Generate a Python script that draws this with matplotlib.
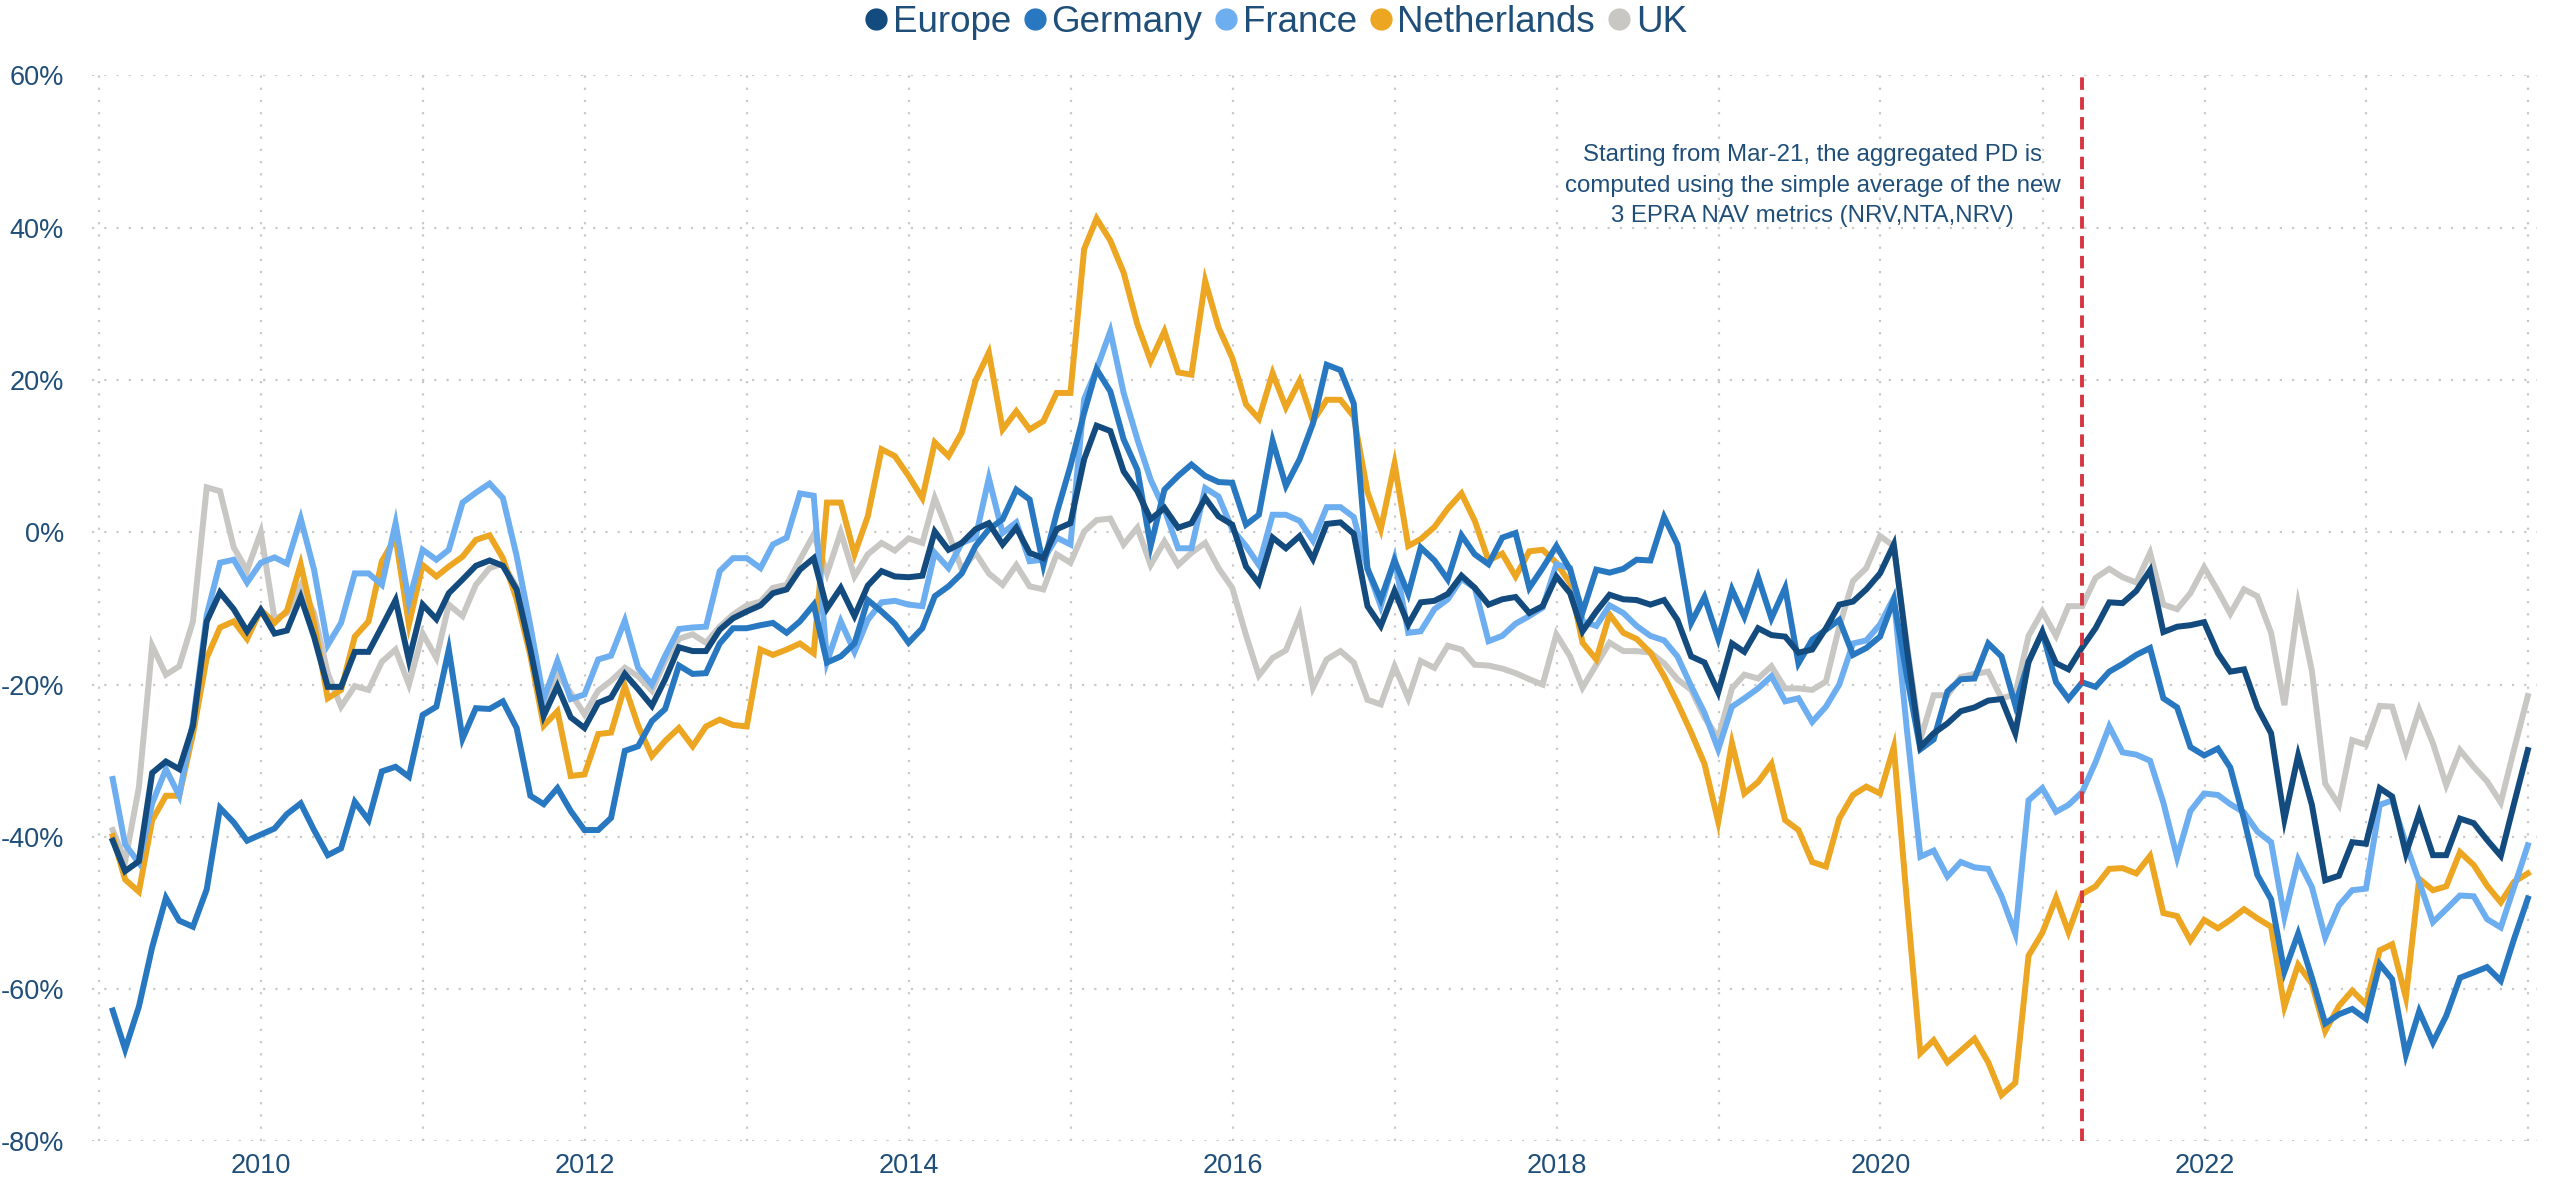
import pandas as pd
import numpy as np
import matplotlib.pyplot as plt
from matplotlib.lines import Line2D

plt.rcParams['font.family'] = ['Liberation Sans', 'DejaVu Sans']

# monthly observations, Jan 2009 - Dec 2023 (values in %)
dates = pd.date_range('2009-01-31', periods=180, freq='ME')

europe = [
    -40.5, -44.5, -43.2, -31.6, -30.1, -31.1, -25.4, -11.7, -7.9, -10.1, -13.0, -10.2,
    -13.3, -12.9, -8.5, -13.7, -20.3, -20.3, -15.7, -15.7, -12.4, -8.9, -16.8, -9.5,
    -11.4, -8.0, -6.2, -4.4, -3.7, -4.4, -7.5, -15.4, -24.1, -20.2, -24.3, -25.7,
    -22.4, -21.7, -18.6, -20.6, -22.8, -19.3, -15.1, -15.6, -15.6, -12.8, -11.3, -10.4,
    -9.6, -8.0, -7.5, -4.9, -3.4, -10.0, -7.3, -11.0, -7.0, -5.1, -5.8, -5.9,
    -5.7, 0.1, -2.3, -1.4, 0.4, 1.2, -1.6, 0.6, -2.7, -3.4, 0.4, 1.2,
    9.6, 14.0, 13.3, 8.0, 5.4, 1.7, 3.2, 0.6, 1.2, 4.5, 2.1, 1.0,
    -4.5, -6.7, -0.7, -2.1, -0.5, -3.5, 1.1, 1.3, -0.2, -9.7, -12.3, -7.7,
    -12.1, -9.2, -9.0, -8.1, -5.7, -7.3, -9.5, -8.8, -8.5, -10.6, -9.7, -5.8,
    -8.0, -13.0, -10.4, -8.2, -8.8, -8.9, -9.5, -8.9, -11.5, -16.3, -17.1, -21.0,
    -14.6, -15.7, -12.6, -13.5, -13.7, -15.8, -15.4, -12.6, -9.5, -9.1, -7.5, -5.4,
    -1.6, -15.0, -28.2, -26.4, -25.1, -23.5, -23.0, -22.1, -21.9, -26.4, -17.0, -13.1,
    -17.2, -18.0, -15.1, -12.6, -9.2, -9.3, -7.7, -5.0, -13.1, -12.4, -12.2, -11.8,
    -15.9, -18.3, -18.0, -23.0, -26.4, -37.7, -29.3, -35.8, -45.7, -45.1, -40.7, -40.9,
    -33.6, -34.7, -42.2, -36.9, -42.4, -42.4, -37.6, -38.2, -40.4, -42.5, -35.6, -28.6,
]

germany = [
    -62.8, -67.9, -62.3, -54.5, -48.0, -51.0, -51.8, -46.9, -36.2, -38.1, -40.5, -39.7,
    -38.9, -37.0, -35.6, -39.1, -42.4, -41.5, -35.4, -37.8, -31.4, -30.8, -32.1, -24.0,
    -22.9, -15.4, -27.1, -23.1, -23.2, -22.2, -25.7, -34.6, -35.7, -33.6, -36.6, -39.1,
    -39.1, -37.5, -28.7, -28.1, -24.8, -23.2, -17.5, -18.6, -18.5, -14.6, -12.6, -12.6,
    -12.2, -11.9, -13.2, -11.7, -9.5, -17.1, -16.3, -14.6, -8.9, -10.4, -12.0, -14.5,
    -12.6, -8.4, -7.1, -5.4, -1.8, 0.4, 1.7, 5.6, 4.3, -4.3, 2.5, 8.7,
    15.7, 21.4, 18.5, 12.2, 8.2, -1.8, 5.6, 7.4, 8.9, 7.4, 6.6, 6.5,
    1.0, 2.3, 12.0, 6.1, 9.6, 14.3, 22.0, 21.3, 16.9, -4.8, -8.8, -3.7,
    -8.1, -2.0, -3.7, -6.2, -0.4, -2.9, -4.2, -0.7, -0.1, -7.3, -4.7, -1.8,
    -4.9, -10.5, -4.9, -5.3, -4.8, -3.6, -3.7, 2.0, -1.6, -11.9, -8.5, -14.0,
    -7.5, -11.1, -5.9, -11.3, -7.3, -17.2, -14.1, -12.8, -11.5, -16.1, -15.2, -13.7,
    -8.9, -18.7, -28.5, -27.2, -20.9, -19.3, -19.2, -14.6, -16.3, -22.7, -17.0, -13.1,
    -19.7, -21.9, -19.7, -20.3, -18.3, -17.3, -16.1, -15.2, -21.8, -23.0, -28.2, -29.3,
    -28.4, -30.9, -37.7, -45.0, -48.2, -57.7, -52.7, -58.5, -64.5, -63.3, -62.6, -63.9,
    -56.7, -58.7, -68.6, -62.9, -67.0, -63.5, -58.5, -57.8, -57.1, -58.9, -53.4, -48.1,
]

france = [
    -32.4, -41.0, -43.4, -35.6, -31.1, -34.6, -24.9, -10.9, -4.0, -3.6, -6.6, -4.0,
    -3.3, -4.1, 1.8, -4.9, -14.8, -11.9, -5.4, -5.4, -6.9, 1.2, -9.1, -2.3,
    -3.6, -2.3, 3.9, 5.2, 6.4, 4.5, -3.1, -12.3, -21.9, -16.9, -21.9, -21.3,
    -16.7, -16.2, -11.6, -17.8, -20.0, -16.2, -12.7, -12.5, -12.4, -5.1, -3.4, -3.4,
    -4.7, -1.6, -0.7, 5.1, 4.8, -17.0, -11.7, -15.7, -11.5, -9.2, -9.0, -9.5,
    -9.7, -2.7, -4.7, -1.4, -0.7, 7.1, -0.1, 1.3, -3.8, -3.6, -0.7, -1.6,
    17.5, 21.4, 26.4, 18.3, 12.2, 6.9, 3.0, -2.1, -2.1, 5.8, 4.7, 0.4,
    -1.8, -4.3, 2.3, 2.3, 1.5, -1.1, 3.3, 3.3, 2.0, -4.8, -9.7, -3.5,
    -13.2, -13.0, -10.1, -8.8, -6.1, -7.3, -14.3, -13.6, -12.0, -11.0, -9.9, -4.2,
    -4.7, -11.7, -12.3, -9.6, -10.6, -12.3, -13.6, -14.2, -16.3, -20.2, -23.7, -28.5,
    -22.9, -21.8, -20.5, -18.9, -22.2, -21.8, -24.9, -22.9, -20.0, -14.6, -14.2, -12.1,
    -8.6, -25.6, -42.6, -41.8, -45.2, -43.3, -44.0, -44.2, -47.8, -52.7, -35.2, -33.6,
    -36.7, -35.8, -34.1, -30.2, -25.5, -28.9, -29.2, -30.0, -35.5, -42.7, -36.6, -34.3,
    -34.5, -35.7, -36.8, -39.3, -40.7, -50.5, -43.0, -46.6, -53.2, -49.0, -47.0, -46.8,
    -35.8, -35.2, -40.9, -45.9, -51.2, -49.5, -47.7, -47.8, -50.8, -51.9, -46.6, -41.1,
]

netherlands = [
    -39.9, -45.6, -47.2, -37.8, -34.6, -34.6, -26.5, -16.5, -12.5, -11.7, -14.0, -10.2,
    -11.9, -10.3, -4.2, -11.9, -21.8, -20.7, -13.7, -11.7, -3.8, -0.7, -12.1, -4.3,
    -5.8, -4.5, -3.2, -1.0, -0.4, -3.4, -8.8, -16.2, -25.4, -23.5, -32.0, -31.8,
    -26.5, -26.3, -20.2, -25.4, -29.4, -27.4, -25.7, -28.1, -25.5, -24.6, -25.3, -25.5,
    -15.4, -16.1, -15.4, -14.6, -15.9, 3.9, 3.9, -2.9, 2.1, 10.9, 10.0, 7.4,
    4.5, 11.8, 10.0, 13.1, 19.9, 23.6, 13.5, 15.9, 13.5, 14.6, 18.3, 18.3,
    37.2, 41.2, 38.3, 34.1, 27.3, 22.5, 26.4, 21.0, 20.7, 33.0, 26.9, 22.9,
    16.8, 14.9, 20.9, 16.4, 19.9, 14.6, 17.4, 17.4, 15.2, 5.3, 0.4, 9.0,
    -1.8, -0.9, 0.7, 3.1, 5.1, 1.5, -3.7, -2.8, -5.8, -2.5, -2.3, -4.0,
    -6.7, -14.5, -16.7, -10.8, -13.2, -14.0, -15.8, -18.9, -22.4, -26.3, -30.4, -38.0,
    -27.7, -34.3, -32.8, -30.4, -37.8, -39.1, -43.3, -43.9, -37.6, -34.5, -33.4, -34.3,
    -28.2, -48.0, -68.4, -66.7, -69.6, -68.1, -66.5, -69.6, -73.9, -72.3, -55.6, -52.6,
    -48.0, -52.5, -47.5, -46.5, -44.2, -44.1, -44.8, -42.5, -50.0, -50.4, -53.6, -50.9,
    -52.0, -50.9, -49.5, -50.7, -51.8, -62.3, -56.8, -59.3, -65.5, -62.2, -60.2, -62.0,
    -54.9, -54.1, -61.1, -45.5, -47.0, -46.5, -42.0, -43.7, -46.4, -48.6, -45.9, -44.8,
]

uk = [
    -39.1, -43.2, -33.5, -14.9, -18.7, -17.6, -11.7, 5.9, 5.4, -2.0, -5.0, 0.0,
    -11.4, -10.6, -7.0, -10.6, -18.5, -22.9, -20.2, -20.7, -17.0, -15.4, -20.0, -13.3,
    -16.5, -9.5, -11.0, -6.9, -4.7, -4.1, -7.2, -14.5, -23.2, -18.6, -21.1, -23.9,
    -20.8, -19.5, -17.8, -18.9, -20.8, -16.9, -14.0, -13.4, -14.5, -12.4, -10.8, -9.6,
    -9.1, -7.3, -6.9, -3.6, -0.3, -5.4, 0.0, -5.8, -2.9, -1.4, -2.4, -0.8,
    -1.4, 4.5, -0.1, -4.9, -2.7, -5.4, -6.9, -4.3, -7.1, -7.5, -2.9, -4.0,
    0.1, 1.6, 1.8, -1.6, 0.6, -4.3, -1.2, -4.3, -2.7, -1.4, -4.7, -7.3,
    -13.5, -18.8, -16.5, -15.5, -11.0, -20.4, -16.7, -15.6, -17.1, -22.0, -22.6, -17.6,
    -21.8, -16.9, -17.8, -14.9, -15.4, -17.4, -17.5, -17.9, -18.5, -19.3, -20.0, -13.4,
    -16.3, -20.4, -17.4, -14.5, -15.6, -15.6, -15.8, -17.2, -19.3, -20.7, -24.3, -27.0,
    -20.5, -18.7, -19.2, -17.6, -20.5, -20.5, -20.7, -19.6, -12.4, -6.4, -4.7, -0.5,
    -1.8, -14.5, -27.2, -21.4, -21.4, -19.0, -18.6, -18.3, -21.8, -21.3, -13.6, -10.4,
    -13.6, -9.7, -9.7, -6.0, -4.8, -5.9, -6.6, -2.7, -9.5, -10.1, -8.0, -4.6,
    -7.7, -10.7, -7.5, -8.4, -13.2, -22.7, -9.5, -18.2, -33.0, -35.8, -27.3, -27.9,
    -22.8, -22.9, -28.8, -23.3, -27.7, -33.2, -28.6, -30.8, -32.7, -35.5, -28.5, -21.5,
]

series = ['Europe', 'Germany', 'France', 'Netherlands', 'UK']
values = [europe, germany, france, netherlands, uk]
colors = ['#134B7E', '#2878C1', '#6DAEF0', '#ECA621', '#C8C7C3']
text_color = '#1F4E79'

fig = plt.figure(figsize=(25.52, 11.78), dpi=100)
ax = fig.add_axes([0.036, 0.031, 0.958, 0.905])

# draw so that the first series ends up on top
for name, vals, col in reversed(list(zip(series, values, colors))):
    ax.plot(dates, np.array(vals) / 100, color=col, linewidth=4.3, solid_joinstyle='miter')

ax.axvline(pd.Timestamp('2021-03-31'), color='#D8363F', linewidth=2.8,
           linestyle=(0, (3.2, 1.9)))

ax.set_ylim(-0.80, 0.60)
ax.set_yticks(np.arange(-0.8, 0.61, 0.2))
ax.yaxis.set_major_formatter(plt.FuncFormatter(lambda v, p: f'{round(v * 100) + 0:.0f}%'))

years = pd.date_range('2009-01-01', '2024-01-01', freq='YS')
ax.set_xticks(years)
ax.set_xticklabels([str(d.year) if d.year % 2 == 0 and d.year < 2024 else '' for d in years])
ax.set_xlim(pd.Timestamp('2008-12-15'), pd.Timestamp('2024-01-20'))

ax.grid(True, color='#C9C9C9', linestyle=(0, (1, 4.5)), linewidth=1.6)
ax.set_axisbelow(True)
for s in ax.spines.values():
    s.set_visible(False)
ax.tick_params(length=0, labelsize=19.5, labelcolor=text_color)
ax.tick_params(axis='y', pad=20)
ax.tick_params(axis='x', pad=8)

ax.text(pd.Timestamp('2019-08-01'), 0.455,
        'Starting from Mar-21, the aggregated PD is\n'
        'computed using the simple average of the new\n'
        '3 EPRA NAV metrics (NRV,NTA,NRV)',
        ha='center', va='center', fontsize=17.3, color=text_color, linespacing=1.5)

handles = [Line2D([], [], marker='o', linestyle='', markersize=15, color=c) for c in colors]
fig.legend(handles, series, loc='upper center', bbox_to_anchor=(0.5, 1.024), ncol=5,
           frameon=False, fontsize=26.5, labelcolor=text_color,
           handletextpad=0.15, columnspacing=0.35, handlelength=0.6)

plt.savefig('out.png', dpi=100)
